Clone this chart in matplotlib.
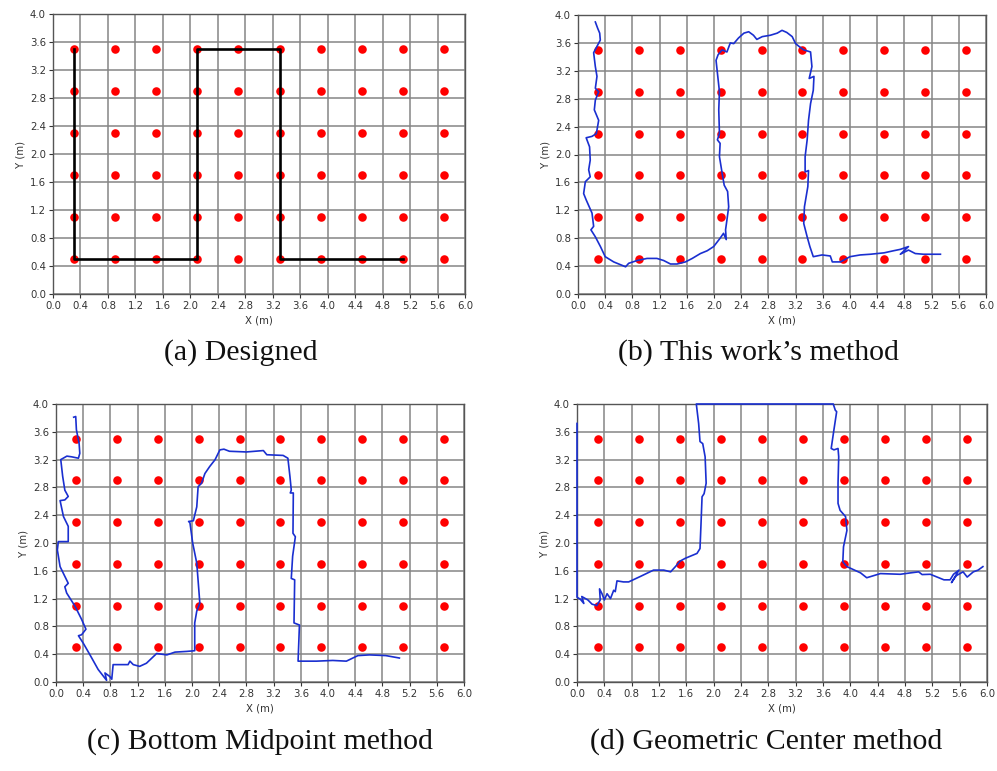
import matplotlib
matplotlib.use("Agg")
import matplotlib.pyplot as plt
import numpy as np

# Reference anchor grid (red dots)
anchor_x = [0.3, 0.9, 1.5, 2.1, 2.7, 3.3, 3.9, 4.5, 5.1, 5.7]
anchor_y = [0.5, 1.1, 1.7, 2.3, 2.9, 3.5]

# Designed walking route
designed_x = [0.3, 0.3, 2.1, 2.1, 3.3, 3.3, 5.1]
designed_y = [3.5, 0.5, 0.5, 3.5, 3.5, 0.5, 0.5]

# Estimated trajectory: this work's method
ours_x = [0.255, 0.289, 0.319, 0.328, 0.23, 0.255, 0.279, 0.255, 0.304, 0.255, 0.24, 0.304,
          0.27, 0.206, 0.12, 0.17, 0.18, 0.157, 0.18, 0.108, 0.083, 0.12, 0.206, 0.23, 0.19,
          0.255, 0.33, 0.40, 0.525, 0.70, 0.745, 0.87, 1.015, 1.16, 1.26, 1.36, 1.456, 1.58,
          1.68, 1.80, 1.90, 1.995, 2.09, 2.14, 2.18, 2.17, 2.19, 2.216, 2.20, 2.15, 2.12, 2.08,
          2.09, 2.05, 2.08, 2.07, 2.08, 2.04, 2.03, 2.06, 2.12, 2.19, 2.24, 2.29, 2.36, 2.44,
          2.51, 2.58, 2.63, 2.71, 2.83, 2.93, 3.0, 3.07, 3.15, 3.20, 3.25, 3.32, 3.42, 3.44,
          3.40, 3.47, 3.46, 3.42, 3.39, 3.37, 3.34, 3.34, 3.39, 3.38, 3.33, 3.32, 3.37, 3.41,
          3.46, 3.59, 3.71, 3.74, 3.86, 4.0, 4.15, 4.30, 4.50, 4.64, 4.74, 4.86, 4.74, 4.86,
          4.96, 5.08, 5.33]
ours_y = [3.90, 3.81, 3.74, 3.64, 3.46, 3.26, 3.12, 2.95, 2.90, 2.78, 2.64, 2.49,
          2.30, 2.26, 2.24, 2.11, 1.92, 1.78, 1.68, 1.61, 1.44, 1.35, 1.16, 0.97, 0.92,
          0.82, 0.68, 0.535, 0.46, 0.39, 0.44, 0.48, 0.51, 0.51, 0.48, 0.43, 0.43, 0.46,
          0.51, 0.58, 0.62, 0.68, 0.80, 0.87, 0.78, 0.92, 1.06, 1.25, 1.47, 1.56, 1.73, 1.97,
          2.16, 2.21, 2.30, 2.64, 2.90, 3.26, 3.35, 3.43, 3.50, 3.47, 3.60, 3.59, 3.67, 3.74,
          3.76, 3.71, 3.65, 3.69, 3.71, 3.74, 3.78, 3.75, 3.69, 3.59, 3.55, 3.50, 3.47, 3.26,
          3.09, 3.12, 2.92, 2.73, 2.49, 2.21, 1.97, 1.75, 1.77, 1.54, 1.25, 1.01, 0.82, 0.68,
          0.535, 0.56, 0.545, 0.46, 0.46, 0.535, 0.56, 0.57, 0.59, 0.62, 0.64, 0.68, 0.57, 0.63,
          0.58, 0.57, 0.57]

# Estimated trajectory: bottom midpoint method
bottom_x = [0.26, 0.29, 0.30, 0.34, 0.35, 0.33, 0.23, 0.16, 0.07, 0.098, 0.13, 0.18, 0.13,
            0.06, 0.11, 0.18, 0.18, 0.034, 0.02, 0.06, 0.13, 0.18, 0.13, 0.157, 0.28, 0.377,
            0.44, 0.377, 0.33, 0.40, 0.50, 0.62, 0.744, 0.72, 0.79, 0.82, 0.84, 0.94, 1.06,
            1.087, 1.136, 1.23, 1.33, 1.48, 1.63, 1.75, 1.92, 2.04, 2.04, 2.07, 2.115, 2.10,
            2.07, 2.01, 1.97, 1.95, 2.02, 2.07, 2.09, 2.14, 2.19, 2.26, 2.34, 2.41, 2.47, 2.55,
            2.80, 3.05, 3.10, 3.34, 3.41, 3.44, 3.46, 3.445, 3.49, 3.485, 3.52, 3.48, 3.46,
            3.51, 3.50, 3.58, 3.56, 3.83, 4.07, 4.27, 4.44, 4.61, 4.85, 5.05]
bottom_y = [3.81, 3.82, 3.63, 3.43, 3.29, 3.22, 3.24, 3.25, 3.20, 2.96, 2.76, 2.67, 2.62,
            2.61, 2.38, 2.24, 2.02, 2.02, 1.90, 1.66, 1.52, 1.42, 1.37, 1.28, 1.09, 0.90,
            0.76, 0.68, 0.666, 0.56, 0.39, 0.18, 0.024, 0.13, 0.08, 0.04, 0.25, 0.25, 0.25,
            0.30, 0.25, 0.225, 0.27, 0.41, 0.39, 0.43, 0.44, 0.45, 0.85, 1.02, 1.135, 1.33,
            1.71, 2.0, 2.29, 2.31, 2.32, 2.52, 2.81, 2.86, 3.0, 3.10, 3.20, 3.34, 3.35, 3.32,
            3.31, 3.33, 3.27, 3.26, 3.22, 2.96, 2.76, 2.72, 2.72, 2.14, 2.09, 1.81, 1.49,
            1.47, 0.85, 0.82, 0.30, 0.30, 0.31, 0.30, 0.38, 0.39, 0.38, 0.345]

# Estimated trajectory: geometric center method
center_x = [0.0, 0.0, 0.05, 0.10, 0.07, 0.16, 0.22, 0.29, 0.34, 0.33, 0.366, 0.40, 0.44,
            0.49, 0.537, 0.56, 0.585, 0.68, 0.756, 0.93, 1.12, 1.27, 1.37, 1.44, 1.51, 1.585,
            1.756, 1.80, 1.815, 1.83, 1.86, 1.89, 1.875, 1.84, 1.80, 1.78, 1.746, 2.29, 3.75,
            3.78, 3.80, 3.76, 3.72, 3.76, 3.82, 3.83, 3.82, 3.82, 3.85, 3.93, 3.95, 3.90, 3.89,
            3.95, 4.15, 4.24, 4.44, 4.73, 4.88, 5.0, 5.05, 5.17, 5.37, 5.46, 5.51, 5.59, 5.48,
            5.55, 5.65, 5.71, 5.80, 5.87, 5.94]
center_y = [3.72, 1.22, 1.19, 1.13, 1.23, 1.18, 1.12, 1.10, 1.18, 1.34, 1.27, 1.18, 1.27,
            1.20, 1.32, 1.30, 1.455, 1.44, 1.44, 1.52, 1.61, 1.61, 1.585, 1.66, 1.74, 1.78,
            1.85, 1.92, 2.28, 2.665, 2.71, 2.86, 3.24, 3.43, 3.46, 3.72, 4.0, 4.0, 4.0,
            3.91, 3.89, 3.63, 3.36, 3.34, 3.36, 3.24, 2.86, 2.57, 2.47, 2.38, 2.18, 1.945, 1.73,
            1.66, 1.57, 1.50, 1.56, 1.55, 1.57, 1.585, 1.546, 1.55, 1.47, 1.47, 1.55, 1.61, 1.43,
            1.53, 1.585, 1.51, 1.585, 1.61, 1.66]

captions = ["(a) Designed", "(b) This work\u2019s method",
            "(c) Bottom Midpoint method", "(d) Geometric Center method"]

x_ticks = [round(0.4 * i, 1) for i in range(16)]
y_ticks = [round(0.4 * i, 1) for i in range(11)]

W, H = 997, 771
fig = plt.figure(figsize=(W / 100, H / 100), dpi=100)

# axes boxes in pixels: left, top, right, bottom
boxes = [(53, 14, 465, 294), (578, 15, 986, 294),
         (56, 404, 464, 682), (577, 404, 987, 682)]
caption_pos = [(241, 353), (758, 353), (260, 742), (766, 742)]

paths = [(designed_x, designed_y, "black", 1.9),
         (ours_x, ours_y, "#1a2fd0", 1.2),
         (bottom_x, bottom_y, "#1a2fd0", 1.2),
         (center_x, center_y, "#1a2fd0", 1.2)]

gx, gy = np.meshgrid(anchor_x, anchor_y)

for i, (l, t, r, b) in enumerate(boxes):
    ax = fig.add_axes([l / W, 1 - b / H, (r - l) / W, (b - t) / H])
    ax.set_xlim(0, 6)
    ax.set_ylim(0, 4)
    ax.set_xticks(x_ticks)
    ax.set_yticks(y_ticks)
    ax.set_xticklabels([f"{v:.1f}" for v in x_ticks])
    ax.set_yticklabels([f"{v:.1f}" for v in y_ticks])
    ax.tick_params(labelsize=7.3, colors="#333333", length=3, width=0.8, pad=2)
    ax.grid(True, color="#858585", linewidth=1.1)
    ax.set_axisbelow(True)
    for s in ax.spines.values():
        s.set_color("#555555")
        s.set_linewidth(1.0)
    ax.set_xlabel("X (m)", fontsize=7.3, color="#333333", labelpad=3)
    ax.set_ylabel("Y (m)", fontsize=7.3, color="#333333", labelpad=3)

    ax.scatter(gx.ravel(), gy.ravel(), s=38, color="red", zorder=3, linewidths=0)
    px, py, col, lw = paths[i]
    ax.plot(px, py, color=col, linewidth=lw, zorder=4, clip_on=False)

    cx, cy = caption_pos[i]
    fig.text(cx / W, 1 - cy / H, captions[i], ha="center", va="center",
             fontsize=21.5, family="Liberation Serif", color="#111111")

fig.savefig("out.png", dpi=100, facecolor="white")
